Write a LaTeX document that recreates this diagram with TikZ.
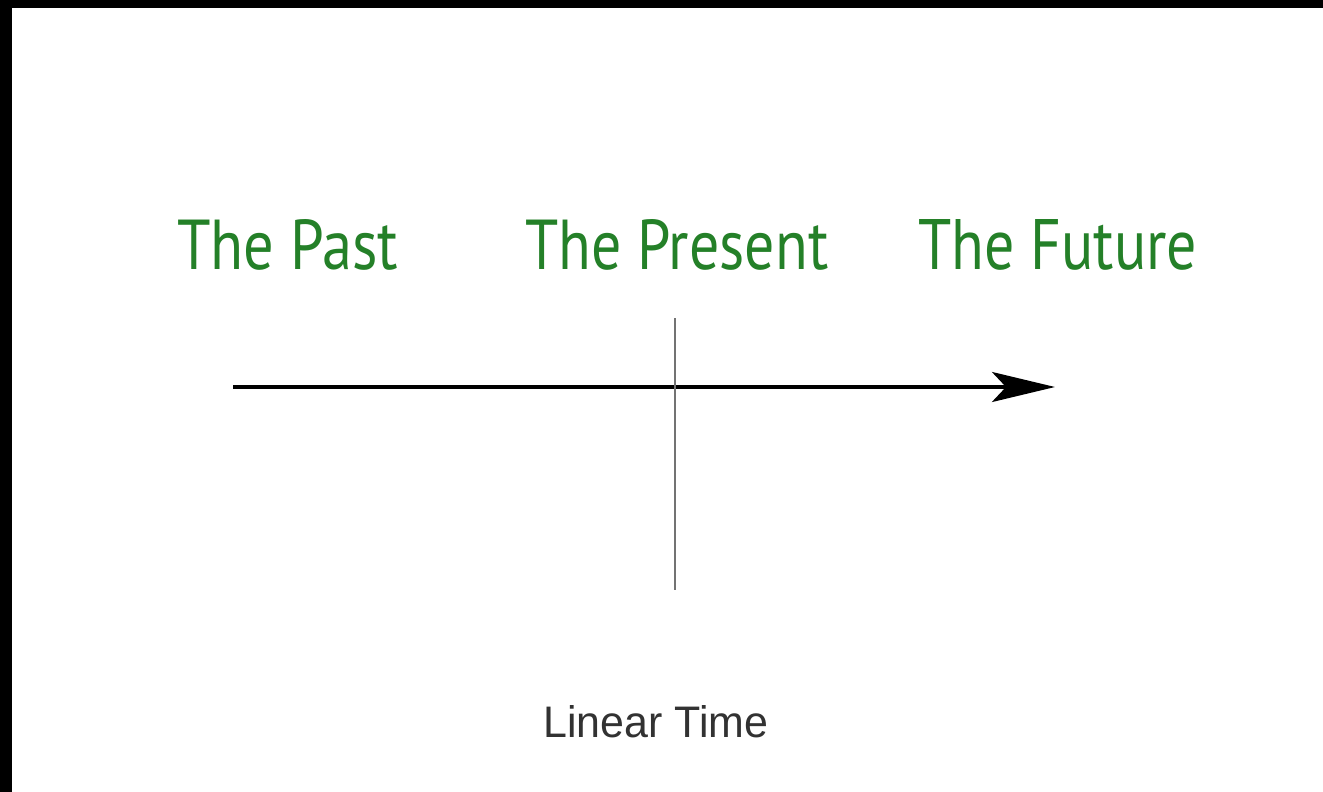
\documentclass[tikz,border=0pt]{standalone}
\usepackage{fontspec}
\setmainfont{Liberation Sans}
\newfontfamily\titlefont{PT Sans}
\usetikzlibrary{arrows.meta}
\definecolor{pastgreen}{RGB}{36,128,40}
\definecolor{labelgray}{RGB}{50,50,50}
\tikzset{
  era/.style={anchor=base west, inner sep=0pt, text=pastgreen, font=\titlefont},
  caption/.style={anchor=base west, inner sep=0pt, text=labelgray},
  timeline/.style={line width=3.5pt, -{Stealth[length=63pt,width=30pt,inset=14pt]}},
  nowline/.style={line width=2pt, draw=black!55}
}
\begin{document}
\begin{tikzpicture}[x=1pt,y=1pt]
\useasboundingbox (0,0) rectangle (1323,-792);
\fill[white] (0,0) rectangle (1323,-792);
\fill[black] (0,0) rectangle (1323,-8);
\fill[black] (0,0) rectangle (12,-792);
\node[era] (past) at (177,-269) {\resizebox{221pt}{50pt}{The Past}};
\node[era] (present) at (525,-269) {\resizebox{303pt}{50pt}{The Present}};
\node[era] (future) at (918,-269) {\resizebox{279pt}{50pt}{The Future}};
\coordinate (tstart) at (233,-387);
\coordinate (tend) at (1055,-387);
\draw[timeline] (tstart) -- (tend);
\coordinate (ntop) at (675,-318);
\coordinate (nbot) at (675,-590);
\draw[nowline] (ntop) -- (nbot);
\node[caption] (linear) at (543,-737) {\resizebox{225pt}{32pt}{Linear Time}};
\end{tikzpicture}
\end{document}
